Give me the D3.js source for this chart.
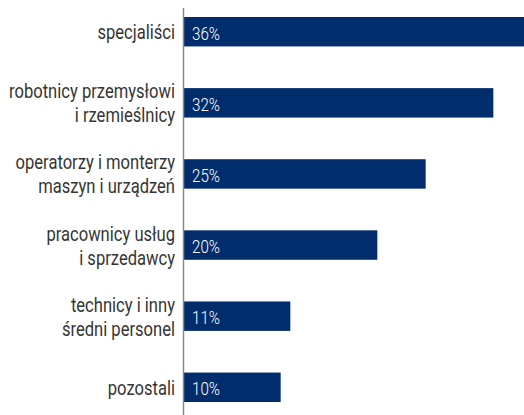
<!DOCTYPE html>
<html><head><meta charset="utf-8">
<script src="https://cdn.jsdelivr.net/npm/d3@7"></script>
<style>html,body{margin:0;padding:0;background:#fff;}svg{display:block;}</style>
</head><body>
<svg id="c" width="524" height="415"></svg>
<script>
const categories = [
  ["specjaliści"],
  ["robotnicy przemysłowi", "i rzemieślnicy"],
  ["operatorzy i monterzy", "maszyn i urządzeń"],
  ["pracownicy usług", "i sprzedawcy"],
  ["technicy i inny", "średni personel"],
  ["pozostali"]
];
const values = [36, 32, 25, 20, 11, 10];
const valueLabels = ["36%", "32%", "25%", "20%", "11%", "10%"];

const svg = d3.select("#c");
const font = "Roboto, 'DejaVu Sans', sans-serif";
const x = d3.scaleLinear().domain([0, 36]).range([184, 532]);
const y = d3.scaleBand().domain(d3.range(values.length)).range([17, 402]).paddingInner(0.586).paddingOuter(0);

svg.selectAll("rect.bar").data(values).join("rect")
  .attr("class", "bar")
  .attr("x", x(0)).attr("y", (d, i) => y(i))
  .attr("width", d => x(d) - x(0)).attr("height", y.bandwidth())
  .attr("fill", "#012d6d");

// condensed look: measure a reference string and squeeze horizontally
function measure(str, size, weight) {
  const t = svg.append("text").attr("font-family", font).attr("font-size", size)
    .attr("font-weight", weight).text(str);
  const w = t.node().getComputedTextLength();
  t.remove();
  return w;
}
const sCat = 166 / measure("robotnicy przemysłowi", 20, 400);
const sVal = 28 / measure("36%", 18.5, 300);

const vg = svg.append("g");
valueLabels.forEach((d, i) => {
  vg.append("text")
    .attr("transform", `translate(${x(0) + 8},${y(i) + y.bandwidth() / 2 + 8}) scale(${sVal},1)`)
    .attr("fill", "#fff").attr("font-family", font).attr("font-size", 18.5)
    .attr("font-weight", 300)
    .text(d);
});

const lh = 24;
const cg = svg.append("g");
categories.forEach((lines, i) => {
  const cy = y(i) + y.bandwidth() / 2;
  const top = cy - (lines.length - 1) * lh / 2 + 7.5;
  const t = cg.append("text")
    .attr("transform", `translate(175,0) scale(${sCat},1)`)
    .attr("text-anchor", "end")
    .attr("fill", "#353535").attr("font-family", font).attr("font-size", 20);
  t.selectAll("tspan").data(lines).join("tspan")
    .attr("x", 0).attr("y", (d, j) => top + j * lh).text(d => d);
});

svg.append("line")
  .attr("x1", 183.5).attr("x2", 183.5).attr("y1", 8).attr("y2", 415)
  .attr("stroke", "#8a8a8a").attr("stroke-width", 1.5);
</script>
</body></html>
